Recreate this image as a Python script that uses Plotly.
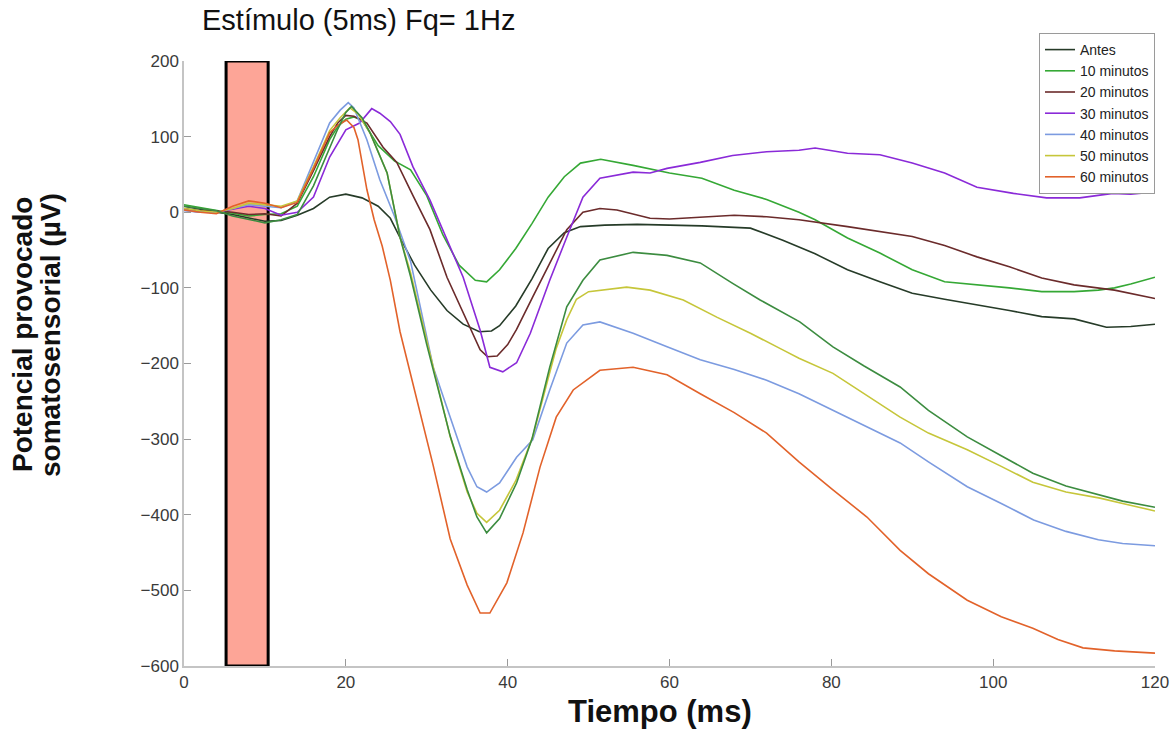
import plotly.graph_objects as go

# ---------------- data ----------------
antes_t = [0,2,4,6,8,10,12,14,16,18,20,22,24,25.5,27,28.5,30.5,32.5,34.5,36.5,38,39,41,43,45,47,49,52,56,60,64,70,74,78,82,86,90,94,98,102,106,110,114,117,120]
antes_v = [8,4,0,-3,-8,-12,-11,-4,5,20,24,19,8,-8,-40,-70,-103,-130,-148,-158,-157,-150,-124,-88,-48,-27,-19,-17,-16,-17,-18,-21,-37,-55,-76,-92,-107,-115,-122,-130,-138,-141,-152,-151,-148]

m10_t = [0,2,4,6,8,10,12,14,16,18,19,20,21,22,24,26,28,30,32,34,36,37.4,39,41,43,45,47,49,51.5,55.5,60,64,68,72,76,78,82,86,90,94,98,102,106,110,113,115,117,120]
m10_v = [10,6,2,-2,-5,-3,-2,8,47,96,113,123,126,122,88,68,56,22,-30,-70,-90,-92,-76,-48,-15,20,47,65,70,62,52,45,29,17,0,-10,-34,-54,-76,-92,-96,-100,-105,-105,-103,-100,-95,-86]

m20_t = [0,2,4,6,8,10,12,14,16,18,19,20,21,22.6,24.6,26.3,28.3,30.4,32.5,34.5,36.6,37.5,38.7,40,41.1,43.1,45.2,47.3,49.3,51.4,53.5,57.6,60,64,68,72,76,82,86,90,94,98,102,106,110,115,120]
m20_v = [5,2,2,0,-3,-2,-5,12,55,100,118,128,127,118,86,66,22,-23,-86,-133,-182,-191,-190,-175,-155,-112,-67,-23,0,5,3,-8,-9,-7,-4,-6,-10,-19,-25,-32,-44,-59,-72,-87,-96,-103,-114]

m30_t = [0,2,4,6,8,10,12,14,16,18,20,21.7,23.2,24.2,25.5,26.7,28.3,30.4,32.5,34.5,36.6,37.8,39.4,41.1,42.8,45.2,47.3,49.3,51.4,55.5,57.6,59.7,63.8,67.8,72,76,78,82,86,90,94,98,102.5,106.6,110.7,114.8,117,120]
m30_v = [3,0,0,4,8,5,-4,0,20,73,109,118,137,131,120,103,60,16,-37,-86,-156,-205,-211,-199,-160,-90,-33,20,45,53,52,58,66,75,80,82,85,78,76,65,52,33,25,19,19,25,24,27]

m40_t = [0,2,4,6,8,10,12,14,16,18,19.3,20.3,21,22.6,24.2,26,28,29.5,30.8,32.9,35,36.2,37.4,39,41.1,43.1,45.2,47.3,49.3,51.4,55.5,59.7,63.8,68,72,76,80,84,88.5,92,96.8,101,105,109,113,116,120]
m40_v = [2,0,0,5,10,8,6,15,66,118,135,145,138,96,43,-5,-65,-140,-205,-271,-337,-363,-370,-358,-324,-301,-235,-173,-149,-145,-160,-178,-195,-208,-222,-240,-261,-282,-305,-330,-363,-385,-407,-422,-433,-438,-441]

m50_t = [0,2,4,6,8,10,12,14,16,18,19.3,20.5,21.5,23,25.1,26.7,28,30,32.9,35,36.2,37.4,39,41,43.1,45,46,47.3,48.5,50,51.4,54.7,57.6,61.7,65.9,70,74,76,80.2,84,88.5,92,96.8,101,104.9,109,113.2,116,120]
m50_v = [5,2,0,5,12,10,8,15,60,108,125,138,130,105,52,-33,-80,-170,-297,-370,-398,-410,-394,-355,-297,-220,-180,-142,-115,-105,-103,-99,-103,-116,-139,-160,-182,-193,-213,-240,-271,-292,-314,-336,-357,-370,-378,-385,-395]

m60_t = [0,2,4,6,8,10,12,14,16,18,19,20.1,21,21.5,22.6,23.5,24.5,25.5,26.7,28.8,30.8,32.9,35,36.6,37.8,39.9,41.9,44,46,48.1,51.4,55.5,59.7,63.8,68,72,76,80.2,84.4,88.5,92,96.8,101,104.9,108,111.1,115,120]
m60_v = [3,0,-2,8,15,12,6,13,58,105,115,122,112,96,30,-10,-45,-90,-158,-248,-335,-432,-493,-530,-530,-490,-424,-337,-271,-235,-209,-205,-215,-240,-265,-292,-330,-367,-403,-447,-478,-513,-535,-550,-565,-576,-580,-583]

# extra (unlabelled) dark-green recording
extra_t = [0,2,4,6,8,10,12,14,16,18,19,20,20.7,22,23,25.1,26.7,28,30,32.9,35,36.2,37.4,39,41.1,43,45.2,47.3,49.3,51.4,55.5,59.7,63.8,67.8,71.2,76.1,80.2,84,88.5,92,96.8,101,104.9,109,113.2,116,120]
extra_v = [8,5,2,-5,-10,-14,-10,-3,35,85,110,132,140,125,105,52,-33,-85,-175,-296,-367,-403,-424,-405,-358,-300,-205,-125,-90,-63,-53,-57,-67,-94,-116,-145,-178,-203,-231,-262,-297,-322,-345,-362,-374,-382,-390]

stim_start, stim_end = 5.2, 10.4
x_ticks = [0, 20, 40, 60, 80, 100, 120]
y_ticks = [200, 100, 0, -100, -200, -300, -400, -500, -600]

series = [
    ("Antes", antes_t, antes_v, "#263b28", True),
    ("10 minutos", m10_t, m10_v, "#35a835", True),
    ("20 minutos", m20_t, m20_v, "#6b2b2b", True),
    ("30 minutos", m30_t, m30_v, "#8a2ad8", True),
    ("40 minutos", m40_t, m40_v, "#7c9be0", True),
    ("50 minutos", m50_t, m50_v, "#c6c63a", True),
    ("60 minutos", m60_t, m60_v, "#e2622a", True),
    ("", extra_t, extra_v, "#3c8c40", False),
]

fig = go.Figure()
for name, t, v, col, show in series:
    fig.add_trace(go.Scatter(x=t, y=v, mode="lines", name=name, showlegend=show,
                             line=dict(color=col, width=1.6)))

# stimulus rectangle
fig.add_shape(type="rect", xref="x", yref="y", x0=stim_start, x1=stim_end,
              y0=y_ticks[-1], y1=y_ticks[0], fillcolor="#fda597",
              line=dict(color="black", width=3), layer="below")

L, R, T, B = 184, 1155, 61, 666
PW, PH = R - L, B - T
font_fam = "Liberation Sans, Arial, sans-serif"
fig.update_layout(
    width=1173, height=730,
    margin=dict(l=L, r=1173 - R, t=T, b=730 - B, autoexpand=False),
    paper_bgcolor="white", plot_bgcolor="white",
    font=dict(family=font_fam, color="#333333"),
    showlegend=True,
    legend=dict(x=1, xanchor="right", y=1 + (T - 33) / PH, yanchor="top",
                bgcolor="white", bordercolor="#9a9a9a", borderwidth=1,
                font=dict(size=14, color="#222222", family=font_fam),
                itemwidth=30, tracegroupgap=0),
    xaxis=dict(range=[0, 120], tickvals=x_ticks, showgrid=False, zeroline=False,
               automargin=False,
               showline=True, linecolor="#c4c4c4", linewidth=1.5,
               ticks="inside", ticklen=7, tickcolor="#9a9a9a",
               tickfont=dict(size=17, color="#3a3a3a")),
    yaxis=dict(range=[-600, 200], tickvals=y_ticks, showgrid=False, zeroline=False,
               automargin=False,
               showline=True, linecolor="#c4c4c4", linewidth=1.5,
               ticks="inside", ticklen=7, tickcolor="#9a9a9a",
               tickfont=dict(size=17, color="#3a3a3a")),
    annotations=[
        dict(text="Estímulo (5ms) Fq= 1Hz", xref="paper", yref="paper",
             x=(200 - L) / PW, y=1 + (T - 20) / PH, xanchor="left", yanchor="middle",
             showarrow=False, font=dict(size=29, color="#111111", family=font_fam)),
        dict(text="<b>Tiempo (ms)</b>", xref="paper", yref="paper",
             x=(660 - L) / PW, y=-(711 - B) / PH, xanchor="center", yanchor="middle",
             showarrow=False, font=dict(size=31, color="#111111", family=font_fam)),
        dict(text="<b>Potencial provocado</b>", xref="paper", yref="paper",
             x=-(L - 22) / PW, y=(B - 335) / PH, xanchor="center", yanchor="middle",
             textangle=-90, showarrow=False,
             font=dict(size=28, color="#111111", family=font_fam)),
        dict(text="<b>somatosensorial (µV)</b>", xref="paper", yref="paper",
             x=-(L - 50) / PW, y=(B - 335) / PH, xanchor="center", yanchor="middle",
             textangle=-90, showarrow=False,
             font=dict(size=28, color="#111111", family=font_fam)),
    ],
)

fig.write_html("out.html")
